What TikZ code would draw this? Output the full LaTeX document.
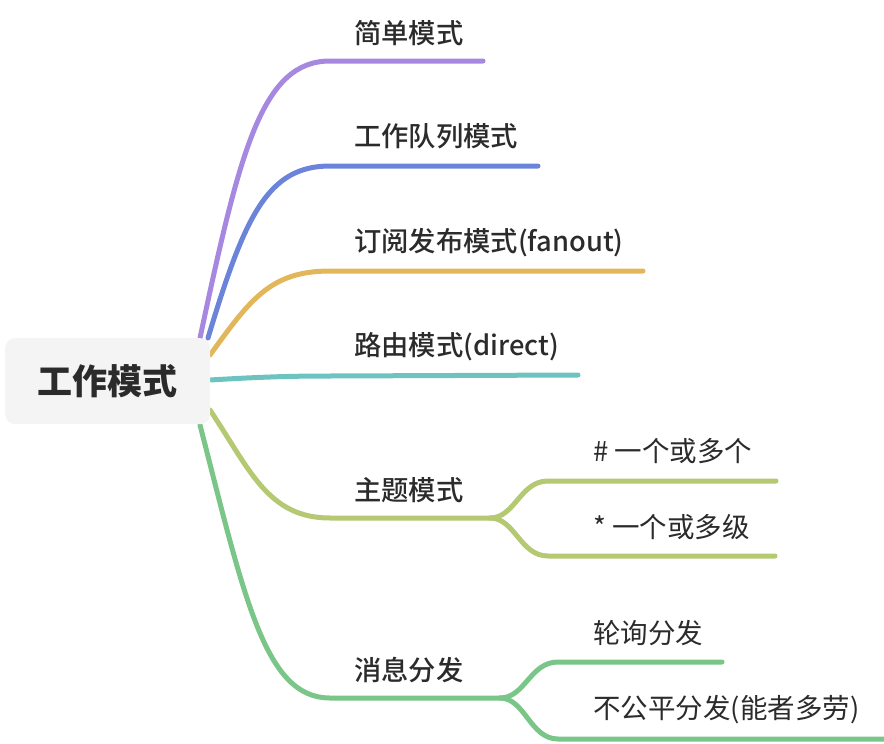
\documentclass[tikz,border=0pt]{standalone}
\usepackage{fontspec}
\setmainfont{Noto Sans CJK SC}
\newfontfamily\medfont{Noto Sans CJK SC Medium}
\definecolor{cPurple}{HTML}{A688E0}
\definecolor{cBlue}{HTML}{6B84DA}
\definecolor{cGold}{HTML}{E2B75B}
\definecolor{cTeal}{HTML}{6DC3BF}
\definecolor{cOlive}{HTML}{B4C972}
\definecolor{cGreen}{HTML}{7AC688}
\definecolor{cText}{HTML}{2B2B2B}
\definecolor{cRoot}{HTML}{F4F4F4}
\tikzset{
  branch/.style={line width=5pt, line cap=round},
  lvlone/.style={anchor=west, inner sep=0pt, text=cText, font=\fontsize{27.3}{31}\medfont},
  lvltwo/.style={anchor=west, inner sep=0pt, text=cText, font=\fontsize{27.5}{31}\selectfont},
}
\begin{document}
\begin{tikzpicture}[x=1pt,y=-1pt]
\useasboundingbox (0,0) rectangle (884,744);
% coordinates
\coordinate (s1) at (200,338); \coordinate (e1) at (483,61);
\coordinate (s2) at (208,338); \coordinate (e2) at (538,166);
\coordinate (s3) at (210,355); \coordinate (e3) at (643,271);
\coordinate (s4) at (210,380); \coordinate (e4) at (578,375);
\coordinate (s5) at (210,410); \coordinate (j5) at (490,518);
\coordinate (s6) at (200,425); \coordinate (j6) at (500,698);
\coordinate (e51) at (776,481); \coordinate (e52) at (775,556);
\coordinate (e61) at (722,662); \coordinate (e62) at (884,739);
% branches
\draw[branch, cPurple] (s1) .. controls (240,150) and (262,61) .. (330,61) -- (e1);
\draw[branch, cBlue] (s2) .. controls (245,215) and (268,166) .. (330,166) -- (e2);
\draw[branch, cGold] (s3) .. controls (250,300) and (270,271) .. (330,271) -- (e3);
\draw[branch, cTeal] (s4) .. controls (260,377) and (290,376) .. (330,376) -- (e4);
\draw[branch, cOlive] (s5) .. controls (250,470) and (268,518) .. (330,518) -- (j5);
\draw[branch, cGreen] (s6) .. controls (245,600) and (265,698) .. (330,698) -- (j6);
\draw[branch, cOlive] (j5) .. controls (515,518) and (520,481) .. (548,481) -- (e51);
\draw[branch, cOlive] (j5) .. controls (515,518) and (520,556) .. (548,556) -- (e52);
\draw[branch, cGreen] (j6) .. controls (525,698) and (530,662) .. (558,662) -- (e61);
\draw[branch, cGreen] (j6) .. controls (525,698) and (530,739) .. (558,739) -- (e62);
% root
\node[draw=none, fill=cRoot, rounded corners=10pt, minimum width=205pt, minimum height=86pt, anchor=north west, inner sep=0pt, text=cText, font=\fontsize{35}{40}\selectfont\bfseries] (root) at (5,338) {工作模式};
% labels
\node[lvlone] (n1) at (354,33) {简单模式};
\node[lvlone] (n2) at (354,136) {工作队列模式};
\node[lvlone] (n3) at (354,243) {订阅发布模式(fanout)};
\node[lvlone] (n4) at (354,347) {路由模式(direct)};
\node[lvlone] (n5) at (354,490) {主题模式};
\node[lvlone] (n6) at (354,670) {消息分发};
\node[lvltwo] (n51) at (593,451) {\# 一个或多个};
\node[lvltwo] (n52) at (593,527) {* 一个或多级};
\node[lvltwo] (n61) at (593,633) {轮询分发};
\node[lvltwo] (n62) at (593,710) {不公平分发(能者多劳)};
\end{tikzpicture}
\end{document}
